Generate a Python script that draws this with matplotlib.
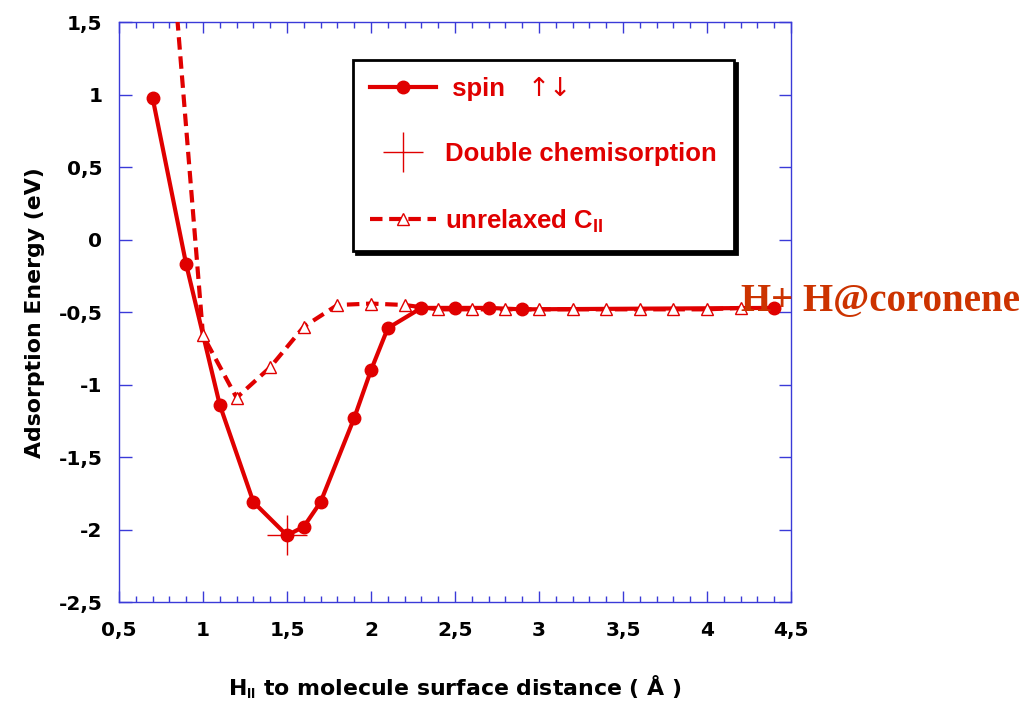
import matplotlib
matplotlib.use("Agg")
import matplotlib.pyplot as plt
from matplotlib.lines import Line2D
from matplotlib.transforms import IdentityTransform
from matplotlib.ticker import MultipleLocator, FuncFormatter

plt.rcParams['font.family'] = ['DejaVu Sans']
plt.rcParams['font.weight'] = 'bold'
plt.rcParams['mathtext.fontset'] = 'custom'
plt.rcParams['mathtext.rm'] = 'DejaVu Sans:bold'
plt.rcParams['mathtext.bf'] = 'Liberation Sans:bold'

# courbe spin (relaxee)
dist_spin = [0.7, 0.9, 1.1, 1.3, 1.5, 1.6, 1.7, 1.9, 2.0, 2.1, 2.3, 2.5, 2.7, 2.9, 4.4]
e_spin = [0.98, -0.17, -1.14, -1.81, -2.04, -1.98, -1.81, -1.23, -0.90, -0.61,
          -0.47, -0.47, -0.47, -0.48, -0.47]

# courbe C non relaxe
dist_unrel = [0.8, 1.0, 1.2, 1.4, 1.6, 1.8, 2.0, 2.2, 2.4, 2.6, 2.8, 3.0, 3.2,
              3.4, 3.6, 3.8, 4.0, 4.2]
e_unrel = [2.2, -0.66, -1.09, -0.88, -0.60, -0.45, -0.44, -0.45, -0.48, -0.48,
           -0.48, -0.48, -0.48, -0.48, -0.48, -0.48, -0.48, -0.47]

# double chimisorption
dist_double = [1.5]
e_double = [-2.04]

ROUGE = '#e00000'
BLEU = '#3a3ad8'

fig = plt.figure(figsize=(10.25, 7.07), dpi=100)
ax = fig.add_axes([0.1161, 0.1485, 0.6556, 0.8197])

ax.plot(dist_spin, e_spin, '-', color=ROUGE, lw=3, marker='o', ms=9, zorder=3)
ax.plot(dist_unrel, e_unrel, color=ROUGE, lw=3, ls=(0, (3, 1.6)), marker='^',
        ms=9, mfc='white', mec=ROUGE, mew=1, zorder=4)
ax.plot(dist_double, e_double, '+', color=ROUGE, ms=29, mew=1, zorder=5)

ax.set_xlim(0.5, 4.5)
ax.set_ylim(-2.5, 1.5)
ax.xaxis.set_major_locator(MultipleLocator(0.5))
ax.xaxis.set_minor_locator(MultipleLocator(0.1))
ax.yaxis.set_major_locator(MultipleLocator(0.5))

virgule = FuncFormatter(lambda v, p: f'{v:g}'.replace('.', ','))
ax.xaxis.set_major_formatter(virgule)
ax.yaxis.set_major_formatter(virgule)

for s in ax.spines.values():
    s.set_color(BLEU)
    s.set_linewidth(1.0)
ax.tick_params(axis='x', which='major', direction='in', top=True, length=8,
               width=1.0, color=BLEU, labelsize=14.5, pad=14)
ax.tick_params(axis='x', which='minor', direction='in', top=True, length=4.5,
               width=1.0, color=BLEU)
ax.tick_params(axis='y', which='major', direction='in', right=True, length=9,
               width=1.0, color=BLEU, labelsize=14.5, pad=12)
for lab in ax.get_xticklabels() + ax.get_yticklabels():
    lab.set_fontweight('bold')

ax.set_ylabel('Adsorption Energy (eV)', fontsize=15.8, fontweight='bold', labelpad=10)
ax.set_xlabel(r'H$_{\mathbf{II}}$ to molecule surface distance ( Å )',
              fontsize=15.8, fontweight='bold', labelpad=24)

ax.text(4.2, -0.49, 'H+ H@coronene', family='Liberation Serif', fontweight='bold',
        fontsize=28, color='#cc3300', va='baseline', ha='left', clip_on=False,
        zorder=6)

poignees = [
    Line2D([], [], color=ROUGE, lw=3, marker='o', ms=9),
    Line2D([], [], color=ROUGE, ls='none', marker='+', ms=29, mew=1),
    Line2D([], [], color=ROUGE, lw=3, ls=(0, (3, 1.6)), marker='^', ms=9,
           mfc='white', mec=ROUGE, mew=1),
]
noms = [' spin', 'Double chemisorption', r'unrelaxed C$_{\mathbf{II}}$']
leg = ax.legend(poignees, noms, loc='upper left', bbox_to_anchor=(0.348, 0.935),
                borderaxespad=0, fancybox=False, shadow={'color': 'black', 'alpha': 1},
                framealpha=1, edgecolor='black', labelcolor=ROUGE,
                prop={'family': 'Liberation Sans', 'size': 18.5, 'weight': 'bold'},
                handlelength=2.6, handletextpad=0.35, labelspacing=1.6,
                borderpad=0.65)
leg.get_frame().set_linewidth(2)

# fleches de spin a cote du libelle
fig.canvas.draw()
bb = leg.get_texts()[0].get_window_extent(fig.canvas.get_renderer())
fig.text(bb.x1 + 22, (bb.y0 + bb.y1) / 2, '↑↓', transform=IdentityTransform(),
         family='DejaVu Sans', fontweight='normal', fontsize=19, color=ROUGE,
         va='center', ha='left', zorder=10)

fig.savefig('out.png', dpi=100)
